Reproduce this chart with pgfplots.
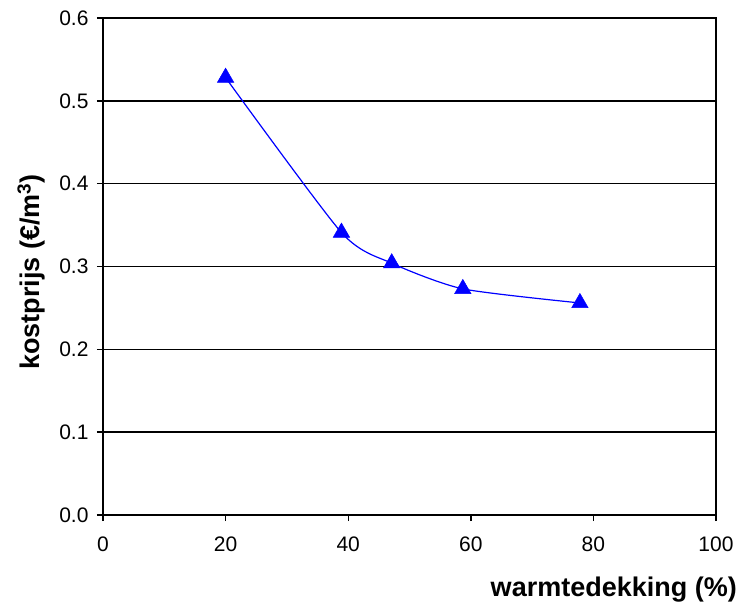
\documentclass[border=0pt]{standalone}
\usepackage{pgfplots}
\pgfplotsset{compat=1.18}
\usepackage{fontspec}
\setmainfont{Liberation Sans}
\begin{document}
\begin{tikzpicture}
\useasboundingbox (-103pt,-92pt) rectangle (635pt,515pt);
\begin{axis}[
  at={(0,0)}, anchor=south west,
  scale only axis,
  width=613pt, height=497pt,
  xmin=0, xmax=100, ymin=0, ymax=0.6,
  xtick={0,20,...,100},
  ytick={0,0.1,...,0.6},
  yticklabel style={/pgf/number format/fixed,/pgf/number format/fixed zerofill,/pgf/number format/precision=1, xshift=-5pt},
  xticklabel style={yshift=-12pt},
  /pgf/number format/assume math mode=true,
  tick label style={font=\fontsize{21}{24}\selectfont},
  tick align=outside,
  xtick pos=bottom, ytick pos=left,
  major tick length=6pt,
  tick style={black, line width=1.4pt},
  axis line style={black, line width=1.6pt},
  ymajorgrids,
  major grid style={black, line width=1.5pt},
  xlabel={\textbf{warmtedekking (\%)}},
  ylabel={\textbf{kostprijs (€/m\textsuperscript{3})}},
  label style={font=\fontsize{27}{30}\selectfont},
  xlabel style={at={(axis description cs:1,0)}, anchor=north east, inner sep=0pt, xshift=21pt, yshift=-62pt},
  ylabel style={at={(axis description cs:-0.140,0.489)}, anchor=north, inner sep=0pt},
]
\addplot[blue, line width=1.2pt, smooth, tension=0.4, mark=triangle*, mark size=9.5pt, mark options={solid, fill=blue, draw=blue, line width=0.5pt}]
  coordinates {(20,0.528) (38.9,0.341) (47.1,0.304) (58.7,0.273) (77.8,0.256)};
\end{axis}
\end{tikzpicture}
\end{document}
